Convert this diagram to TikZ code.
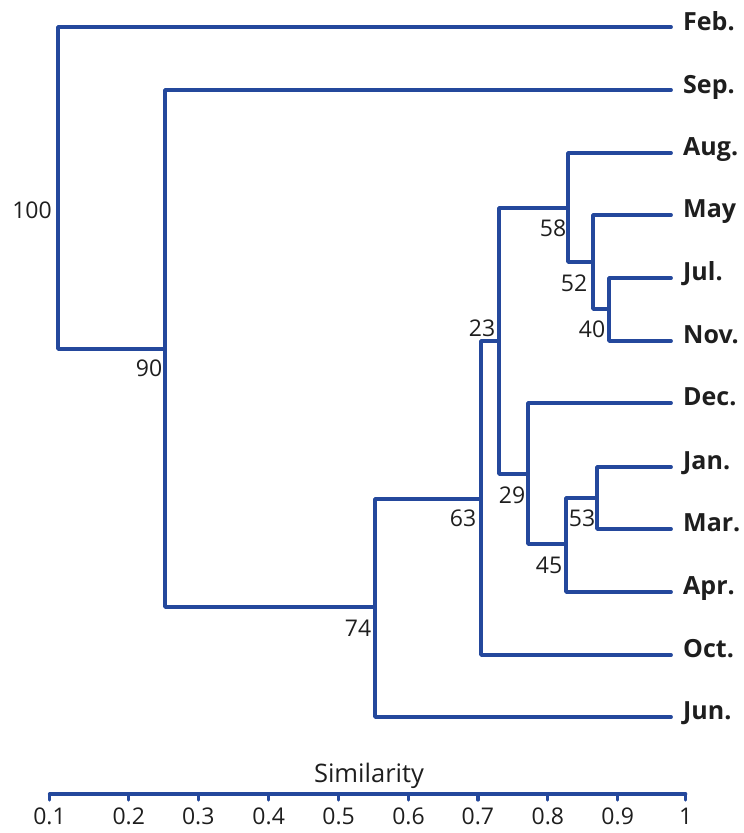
\documentclass[tikz,border=0pt]{standalone}
\usepackage{fontspec}
\setmainfont{Open Sans}
\definecolor{treeblue}{RGB}{36,72,156}
\definecolor{txt}{RGB}{30,30,30}
\tikzset{
  branch/.style={draw=treeblue, line width=3.8pt, line join=round, line cap=round},
  leaf/.style={anchor=base west, inner sep=0pt, font=\fontsize{25}{25}\selectfont\bfseries, text=txt},
  score/.style={inner sep=0pt, font=\fontsize{23}{23}\selectfont, text=txt},
  ticklab/.style={anchor=center, inner sep=0pt, font=\fontsize{23}{23}\selectfont, text=txt},
  axtitle/.style={anchor=base, inner sep=0pt, font=\fontsize{25.5}{25.5}\selectfont, text=txt},
  axisline/.style={draw=treeblue, line width=3.2pt, line cap=round},
}
\begin{document}
\begin{tikzpicture}[x=1pt, y=-1pt]
\useasboundingbox (0,0) rectangle (744,833);
% leaf line ends and labels
\foreach \nm/\yy in {Feb/27, Sep/90, Aug/153, May/215, Jul/278, Nov/341, Dec/403, Jan/467, Mar/529, Apr/592, Oct/655, Jun/717}{
  \coordinate (e\nm) at (671,\yy);
}
\node[leaf] (Feb) at (683,30) {Feb.};
\node[leaf] (Sep) at (683,93) {Sep.};
\node[leaf] (Aug) at (683,155) {Aug.};
\node[leaf] (May) at (683,217) {May};
\node[leaf] (Jul) at (683,280) {Jul.};
\node[leaf] (Nov) at (683,343) {Nov.};
\node[leaf] (Dec) at (683,405) {Dec.};
\node[leaf] (Jan) at (683,469) {Jan.};
\node[leaf] (Mar) at (683,531) {Mar.};
\node[leaf] (Apr) at (683,594) {Apr.};
\node[leaf] (Oct) at (683,657) {Oct.};
\node[leaf] (Jun) at (683,719) {Jun.};
% internal junctions (attach points)
\coordinate (nroot) at (58,200);
\coordinate (n90) at (165,349);
\coordinate (n74) at (375,607);
\coordinate (n63) at (481,499);
\coordinate (n23) at (499,341);
\coordinate (n58) at (568,208);
\coordinate (n52) at (593,262);
\coordinate (n40) at (609,309);
\coordinate (n29) at (528,474);
\coordinate (n45) at (566,544);
\coordinate (n53) at (597,498);
% branches
\draw[branch] (eJul) -| (n40) |- (eNov);
\draw[branch] (eMay) -| (n52) |- (n40);
\draw[branch] (eAug) -| (n58) |- (n52);
\draw[branch] (eJan) -| (n53) |- (eMar);
\draw[branch] (n53) -| (n45) |- (eApr);
\draw[branch] (eDec) -| (n29) |- (n45);
\draw[branch] (n58) -| (n23) |- (n29);
\draw[branch] (n23) -| (n63) |- (eOct);
\draw[branch] (n63) -| (n74) |- (eJun);
\draw[branch] (eSep) -| (n90) |- (n74);
\draw[branch] (eFeb) -| (nroot) |- (n90);
% scores
\node[score] (s100) at (32,210) {100};
\node[score] (s90) at (149,368) {90};
\node[score] (s74) at (358,628) {74};
\node[score] (s63) at (463,518) {63};
\node[score] (s23) at (482,328) {23};
\node[score] (s29) at (512,495) {29};
\node[score] (s58) at (553,228) {58};
\node[score] (s52) at (574,283) {52};
\node[score] (s40) at (592,329) {40};
\node[score] (s53) at (582,518) {53};
\node[score] (s45) at (549,565) {45};
% axis
\coordinate (a0) at (49.5,794);
\coordinate (a1) at (685.7,794);
\draw[axisline] (a0) -- (a1);
\foreach \xx/\lab in {49.5/0.1, 128.8/0.2, 198.3/0.3, 268.7/0.4, 338.6/0.5, 408.5/0.6, 477.9/0.7, 547.8/0.8, 617.7/0.9, 685.7/1}{
  \draw[axisline] (\xx,794) -- (\xx,800);
  \node[ticklab] at (\xx,816) {\lab};
}
\node[axtitle] (sim) at (369,782) {Similarity};
\end{tikzpicture}
\end{document}
